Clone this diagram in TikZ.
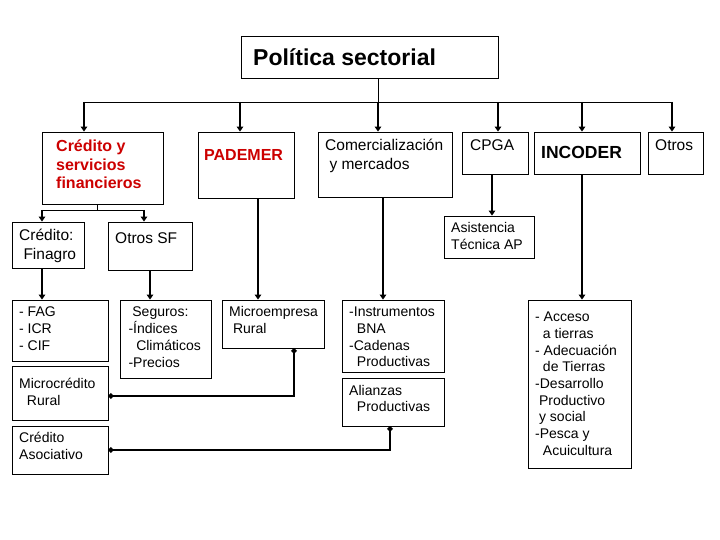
\documentclass[tikz,border=0pt]{standalone}
\usepackage{fontspec}
\setmainfont{Liberation Sans}
\usetikzlibrary{arrows.meta}
\definecolor{rojo}{RGB}{204,0,0}
\newcommand{\lineas}[1]{\begin{tabular}[t]{@{}l@{}}#1\end{tabular}}

\begin{document}
\begin{tikzpicture}[x=1pt, y=-1pt,
    caja/.style={draw, line width=0.8pt, inner sep=0pt},
    txt/.style={anchor=base west, inner sep=0pt, font=\fontsize{14}{16.7}\selectfont},
    txtm/.style={txt, font=\fontsize{15.5}{18.3}\selectfont},
    roja/.style={txt, text=rojo, font=\bfseries\fontsize{16}{18.5}\selectfont},
    flecha/.style={line width=2.9pt, -{Triangle[width=6.5pt,length=5pt]}},
    enlace/.style={line width=2.7pt, {Circle[length=5pt]}-{Circle[length=5pt]}},
    fina/.style={line width=0.9pt}
]
\useasboundingbox (0,0) rectangle (720,540);

% cajas
\node[caja, minimum width=257pt, minimum height=42pt] (titulo) at (369.5,57) {};
\node[caja, minimum width=121pt, minimum height=72pt] (credito) at (102.5,168) {};
\node[caja, minimum width=96pt, minimum height=66pt] (pademer) at (246,165) {};
\node[caja, minimum width=134pt, minimum height=65pt] (comerc) at (385,164.5) {};
\node[caja, minimum width=66pt, minimum height=42pt] (cpga) at (495,153) {};
\node[caja, minimum width=106pt, minimum height=42pt] (incoder) at (587,153) {};
\node[caja, minimum width=55pt, minimum height=42pt] (otros) at (675.5,153) {};
\node[caja, minimum width=72pt, minimum height=46pt] (finagro) at (48,245) {};
\node[caja, minimum width=84pt, minimum height=48pt] (otrossf) at (150,246) {};
\node[caja, minimum width=90pt, minimum height=42pt] (asistencia) at (489,237) {};
\node[caja, minimum width=96pt, minimum height=61pt] (fag) at (60,330.5) {};
\node[caja, minimum width=91pt, minimum height=78pt] (seguros) at (165.5,339) {};
\node[caja, minimum width=102pt, minimum height=48pt] (microemp) at (273,324) {};
\node[caja, minimum width=102pt, minimum height=72pt] (instrum) at (393,336) {};
\node[caja, minimum width=102pt, minimum height=48pt] (alianzas) at (393,402) {};
\node[caja, minimum width=103pt, minimum height=168pt] (incolista) at (579.5,384) {};
\node[caja, minimum width=96pt, minimum height=54pt] (microcred) at (60,393) {};
\node[caja, minimum width=96pt, minimum height=48pt] (asociativo) at (60,450) {};

% textos
\node[txt, font=\bfseries\fontsize{23}{27}\selectfont] (t-titulo) at (253,66) {Política sectorial};
\node[roja] (t-credito) at (56,152) {\lineas{Crédito y\\servicios\\financieros}};
\node[roja] (t-pademer) at (204,161) {PADEMER};
\node[txtm] (t-comerc) at (325,151) {\lineas{Comercialización\\\ y mercados}};
\node[txtm] (t-cpga) at (470,151) {CPGA};
\node[txt, font=\bfseries\fontsize{17.5}{21}\selectfont] (t-incoder) at (541,159) {INCODER};
\node[txtm] (t-otros) at (655,151) {Otros};
\node[txtm] (t-finagro) at (19,240.7) {\lineas{Crédito:\\\ Finagro}};
\node[txtm] (t-otrossf) at (115,243.3) {Otros SF};
\node[txt] (t-asistencia) at (451,232.7) {\lineas{Asistencia\\Técnica AP}};
\node[txt] (t-fag) at (19,316.7) {\lineas{- FAG\\- ICR\\- CIF}};
\node[txt] (t-seguros) at (128.3,316.7) {\lineas{\ Seguros:\\-Índices\\\ \ Climáticos\\-Precios}};
\node[txt] (t-microemp) at (229,316.7) {\lineas{Microempresa\\\ Rural}};
\node[txt] (t-instrum) at (349,316.7) {\lineas{-Instrumentos\\\ \ BNA\\-Cadenas\\\ \ Productivas}};
\node[txt] (t-alianzas) at (349,395) {\lineas{Alianzas\\\ \ Productivas}};
\node[txt] (t-microcred) at (19,388.3) {\lineas{Microcrédito\\\ \ Rural}};
\node[txt] (t-asociativo) at (19,442.3) {\lineas{Crédito\\Asociativo}};
\node[txt] (t-incolista) at (535,321.7) {\lineas{- Acceso\\\ \ a tierras\\- Adecuación\\\ \ de Tierras\\-Desarrollo\\\ Productivo\\\ y social\\-Pesca y\\\ \ Acuicultura}};

% bus superior
\coordinate (bus) at (378,102);
\draw[fina] (titulo.south -| bus) -- (bus);
\foreach \n/\x in {credito/84, pademer/240, comerc/378, cpga/498, incoder/582, otros/672} {
    \coordinate (b-\n) at (\x,102);
    \draw[flecha] (b-\n) -- (b-\n |- \n.north);
}
\draw[fina] (b-credito) -- (b-otros);

% ramas de credito
\coordinate (r-credito) at (97,210);
\coordinate (r-finagro) at (42,210);
\coordinate (r-otrossf) at (144,210);
\draw[fina] (r-credito |- credito.south) -- (r-credito);
\draw[fina] (r-finagro) -- (r-otrossf);
\draw[flecha] (r-finagro) -- (r-finagro |- finagro.north);
\draw[flecha] (r-otrossf) -- (r-otrossf |- otrossf.north);

% flechas verticales
\foreach \a/\b/\x in {finagro/fag/42, otrossf/seguros/150, pademer/microemp/258,
                      comerc/instrum/383, cpga/asistencia/492, incoder/incolista/582} {
    \coordinate (x-\b) at (\x,0);
    \draw[flecha] (x-\b |- \a.south) -- (x-\b |- \b.north);
}

% enlaces con puntos
\coordinate (c-micro) at (294,396);
\coordinate (c-alianzas) at (390,450);
\draw[enlace] (c-micro |- microemp.south) -- (c-micro) -- (c-micro -| microcred.east);
\draw[enlace] (c-alianzas |- alianzas.south) -- (c-alianzas) -- (c-alianzas -| asociativo.east);
\end{tikzpicture}
\end{document}
